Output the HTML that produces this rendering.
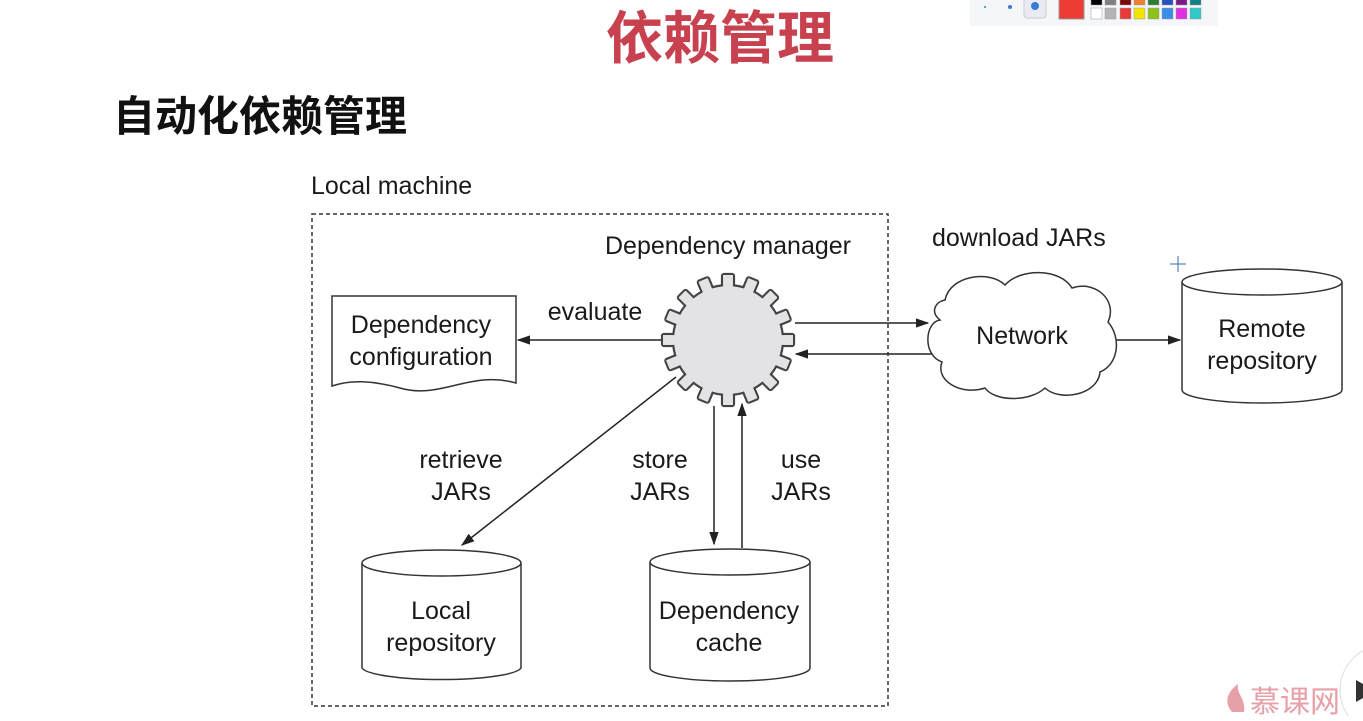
<!DOCTYPE html>
<html><head><meta charset="utf-8"><style>
body{margin:0;width:1363px;height:716px;overflow:hidden;background:#fff;font-family:"Liberation Sans","Noto Sans CJK SC",sans-serif}
</style></head><body>
<svg width="1363" height="716" viewBox="0 0 1363 716" xmlns="http://www.w3.org/2000/svg" font-family="Liberation Sans, Noto Sans CJK SC, sans-serif">
<defs>
<marker id="a" viewBox="0 0 10 10" refX="9" refY="5" markerWidth="9" markerHeight="9" orient="auto"><path d="M0,1.5 L10,5 L0,8.5z" fill="#222"/></marker>
</defs>
<rect x="970" y="0" width="248" height="26" fill="#f4f6fa"/>
<circle cx="985" cy="7" r="1" fill="#3a7bd5"/><circle cx="1010" cy="7" r="2" fill="#3a7bd5"/>
<rect x="1024" y="-2" width="22" height="20" rx="3" fill="#e8ecf2" stroke="#ccc"/><circle cx="1035" cy="6" r="4" fill="#3a7bd5"/>
<rect x="1059" y="-2" width="25" height="21" fill="#ee3b33" stroke="#999"/>
<g stroke="#999" stroke-width=".5">
<rect x="1091" y="-2" width="11" height="7" fill="#000"/><rect x="1105" y="-2" width="11" height="7" fill="#808080"/><rect x="1120" y="-2" width="11" height="7" fill="#7a0a0a"/><rect x="1134" y="-2" width="11" height="7" fill="#f08030"/><rect x="1148" y="-2" width="11" height="7" fill="#2e7d32"/><rect x="1162" y="-2" width="11" height="7" fill="#2a4fbf"/><rect x="1176" y="-2" width="11" height="7" fill="#7a1a8a"/><rect x="1190" y="-2" width="11" height="7" fill="#108080"/>
<rect x="1091" y="8" width="11" height="11" fill="#fff"/><rect x="1105" y="8" width="11" height="11" fill="#b4b4b4"/><rect x="1120" y="8" width="11" height="11" fill="#e83a3a"/><rect x="1134" y="8" width="11" height="11" fill="#f2e600"/><rect x="1148" y="8" width="11" height="11" fill="#8cc21a"/><rect x="1162" y="8" width="11" height="11" fill="#3a8ee8"/><rect x="1176" y="8" width="11" height="11" fill="#e030e0"/><rect x="1190" y="8" width="11" height="11" fill="#30c8c8"/>
</g>
<text x="720" y="58" text-anchor="middle" font-size="57" font-weight="bold" fill="#c8414f">依赖管理</text>
<text x="113" y="131" font-size="42" font-weight="bold" fill="#111">自动化依赖管理</text>
<g font-size="25" fill="#1a1a1a">
<text x="311" y="194">Local machine</text>
<text x="728" y="254" text-anchor="middle">Dependency manager</text>
<text x="932" y="246">download JARs</text>
</g>
<rect x="312" y="214" width="576" height="492" fill="none" stroke="#333" stroke-width="1.5" stroke-dasharray="4,3"/>
<path d="M332,296 H516 V383 C470,370 440,400 400,388 C370,380 350,380 332,386 Z" fill="#fff" stroke="#333" stroke-width="1.5"/>
<g font-size="25" fill="#1a1a1a" text-anchor="middle">
<text x="421" y="333">Dependency</text>
<text x="421" y="365">configuration</text>
<text x="595" y="320">evaluate</text>
</g>
<g stroke="#222" stroke-width="1.5" fill="none" marker-end="url(#a)">
<line x1="662" y1="340" x2="518" y2="340"/>
<line x1="795" y1="323" x2="928" y2="323"/>
<line x1="940" y1="354" x2="796" y2="354"/>
<line x1="1115" y1="340" x2="1180" y2="340"/>
<line x1="676" y1="377" x2="462" y2="545"/>
<line x1="714" y1="406" x2="714" y2="544"/>
<line x1="742" y1="548" x2="742" y2="404"/>
</g>
<g transform="translate(728,340)">
<g fill="#e3e3e5" stroke="#444" stroke-width="2.2">
<rect x="-6" y="-66" width="12" height="16" rx="2" transform="rotate(0)"/><rect x="-6" y="-66" width="12" height="16" rx="2" transform="rotate(22.5)"/><rect x="-6" y="-66" width="12" height="16" rx="2" transform="rotate(45)"/><rect x="-6" y="-66" width="12" height="16" rx="2" transform="rotate(67.5)"/><rect x="-6" y="-66" width="12" height="16" rx="2" transform="rotate(90)"/><rect x="-6" y="-66" width="12" height="16" rx="2" transform="rotate(112.5)"/><rect x="-6" y="-66" width="12" height="16" rx="2" transform="rotate(135)"/><rect x="-6" y="-66" width="12" height="16" rx="2" transform="rotate(157.5)"/><rect x="-6" y="-66" width="12" height="16" rx="2" transform="rotate(180)"/><rect x="-6" y="-66" width="12" height="16" rx="2" transform="rotate(202.5)"/><rect x="-6" y="-66" width="12" height="16" rx="2" transform="rotate(225)"/><rect x="-6" y="-66" width="12" height="16" rx="2" transform="rotate(247.5)"/><rect x="-6" y="-66" width="12" height="16" rx="2" transform="rotate(270)"/><rect x="-6" y="-66" width="12" height="16" rx="2" transform="rotate(292.5)"/><rect x="-6" y="-66" width="12" height="16" rx="2" transform="rotate(315)"/><rect x="-6" y="-66" width="12" height="16" rx="2" transform="rotate(337.5)"/>
</g>
<circle r="55" fill="#e3e3e5" stroke="#444" stroke-width="2.2"/>
<g fill="#e3e3e5">
<rect x="-4.9" y="-65" width="9.8" height="16" transform="rotate(0)"/><rect x="-4.9" y="-65" width="9.8" height="16" transform="rotate(22.5)"/><rect x="-4.9" y="-65" width="9.8" height="16" transform="rotate(45)"/><rect x="-4.9" y="-65" width="9.8" height="16" transform="rotate(67.5)"/><rect x="-4.9" y="-65" width="9.8" height="16" transform="rotate(90)"/><rect x="-4.9" y="-65" width="9.8" height="16" transform="rotate(112.5)"/><rect x="-4.9" y="-65" width="9.8" height="16" transform="rotate(135)"/><rect x="-4.9" y="-65" width="9.8" height="16" transform="rotate(157.5)"/><rect x="-4.9" y="-65" width="9.8" height="16" transform="rotate(180)"/><rect x="-4.9" y="-65" width="9.8" height="16" transform="rotate(202.5)"/><rect x="-4.9" y="-65" width="9.8" height="16" transform="rotate(225)"/><rect x="-4.9" y="-65" width="9.8" height="16" transform="rotate(247.5)"/><rect x="-4.9" y="-65" width="9.8" height="16" transform="rotate(270)"/><rect x="-4.9" y="-65" width="9.8" height="16" transform="rotate(292.5)"/><rect x="-4.9" y="-65" width="9.8" height="16" transform="rotate(315)"/><rect x="-4.9" y="-65" width="9.8" height="16" transform="rotate(337.5)"/>
</g>
</g>
<path d="M945,300 C950,275 990,270 1005,285 C1020,268 1060,268 1072,288 C1095,280 1118,300 1108,322 C1122,338 1118,365 1100,372 C1098,395 1060,402 1045,388 C1030,402 995,402 985,388 C960,396 935,380 942,362 C922,355 925,322 940,320 C930,312 935,302 945,300 Z" fill="#fff" stroke="#333" stroke-width="1.5"/>
<g fill="#fff" stroke="#333" stroke-width="1.5">
<path d="M1182,282 V390 A80,13 0 0 0 1342,390 V282"/><ellipse cx="1262" cy="282" rx="80" ry="13"/>
<path d="M362,563 V668 A80,13 0 0 0 521,668 V563"/><ellipse cx="441.5" cy="563" rx="79.5" ry="13"/>
<path d="M650,562 V668 A80,13 0 0 0 810,668 V562"/><ellipse cx="730" cy="562" rx="80" ry="13"/>
</g>
<g font-size="25" fill="#1a1a1a" text-anchor="middle">
<text x="1022" y="344">Network</text>
<text x="1262" y="337">Remote</text>
<text x="1262" y="369">repository</text>
<text x="441" y="619">Local</text>
<text x="441" y="651">repository</text>
<text x="729" y="619">Dependency</text>
<text x="729" y="651">cache</text>
<text x="461" y="468">retrieve</text>
<text x="461" y="500">JARs</text>
<text x="660" y="468">store</text>
<text x="660" y="500">JARs</text>
<text x="801" y="468">use</text>
<text x="801" y="500">JARs</text>
</g>
<g stroke="#3a6ea5" stroke-width="1"><line x1="1170" y1="264" x2="1186" y2="264"/><line x1="1178" y1="256" x2="1178" y2="272"/></g>
<path d="M1232,712 C1222,700 1230,690 1238,684 C1236,694 1246,698 1244,712 Z" fill="#e8a0a8"/>
<text x="1250" y="712" font-size="30" fill="#e8a0a8">慕课网</text>
<circle cx="1385" cy="690" r="45" fill="#fff" stroke="#ddd"/>
<path d="M1356,680 L1363,684 L1363,698 L1356,702Z" fill="#333"/>
</svg>
</body></html>
